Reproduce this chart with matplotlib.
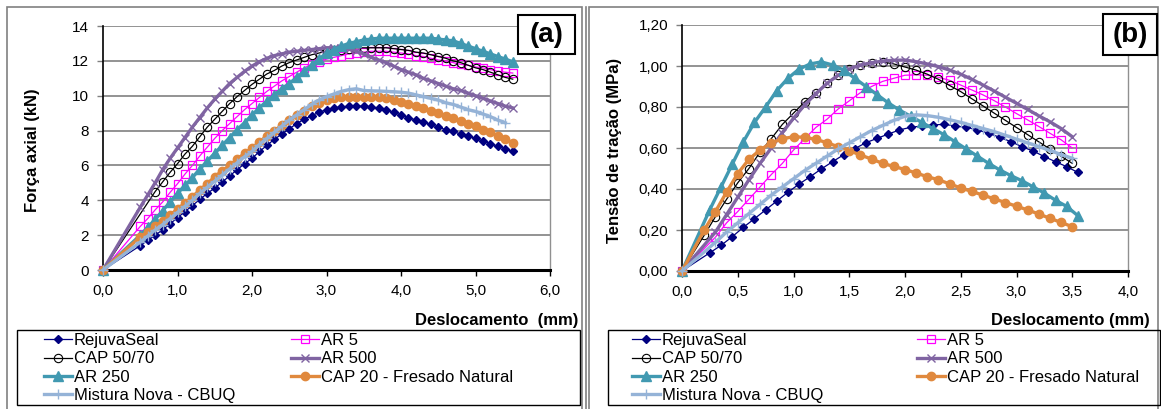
import matplotlib
matplotlib.use("Agg")
import matplotlib.pyplot as plt
from matplotlib.lines import Line2D
from matplotlib.patches import Rectangle
from matplotlib.ticker import FuncFormatter

plt.rcParams["font.family"] = ["Liberation Sans", "DejaVu Sans"]

# ---- panel (a): axial force (kN) vs displacement (mm)
xa = [0.0, 0.5, 0.6, 0.7, 0.8, 0.9, 1.0, 1.1, 1.2, 1.3, 1.4, 1.5, 1.6, 1.7, 1.8, 1.9,
      2.0, 2.1, 2.2, 2.3, 2.4, 2.5, 2.6, 2.7, 2.8, 2.9, 3.0, 3.1, 3.2, 3.3, 3.4, 3.5,
      3.6, 3.7, 3.8, 3.9, 4.0, 4.1, 4.2, 4.3, 4.4, 4.5, 4.6, 4.7, 4.8, 4.9, 5.0, 5.1,
      5.2, 5.3, 5.4, 5.5]
a_rejuvaseal = [0, 1.4, 1.7, 2.0, 2.3, 2.65, 3.0, 3.35, 3.7, 4.05, 4.4, 4.7, 5.05, 5.4, 5.75,
                6.1, 6.4, 6.8, 7.15, 7.5, 7.8, 8.1, 8.4, 8.65, 8.85, 9.05, 9.2, 9.3, 9.35, 9.4,
                9.4, 9.4, 9.35, 9.3, 9.2, 9.05, 8.9, 8.75, 8.6, 8.5, 8.35, 8.2, 8.05, 7.95,
                7.8, 7.7, 7.55, 7.4, 7.25, 7.1, 6.95, 6.8]
a_ar5 = [0, 2.5, 2.95, 3.45, 3.9, 4.45, 4.95, 5.5, 6.0, 6.55, 7.05, 7.55, 8.0, 8.4, 8.8, 9.2,
         9.55, 9.9, 10.25, 10.55, 10.85, 11.1, 11.35, 11.6, 11.8, 11.95, 12.1, 12.2, 12.3,
         12.4, 12.45, 12.5, 12.55, 12.55, 12.55, 12.5, 12.45, 12.4, 12.3, 12.25, 12.15,
         12.05, 12.0, 11.9, 11.8, 11.75, 11.65, 11.6, 11.5, 11.4, 11.35, 11.3]
a_cap5070 = [0, 4.5, 5.05, 5.6, 6.1, 6.65, 7.1, 7.65, 8.2, 8.65, 9.1, 9.55, 9.95, 10.3, 10.65,
             10.95, 11.25, 11.45, 11.7, 11.9, 12.05, 12.2, 12.35, 12.45, 12.55, 12.6, 12.65,
             12.7, 12.75, 12.75, 12.75, 12.75, 12.75, 12.7, 12.65, 12.6, 12.5, 12.45, 12.35,
             12.25, 12.15, 12.0, 11.9, 11.75, 11.6, 11.5, 11.35, 11.2, 11.05, 10.95]
a_ar500 = [0, 3.6, 4.3, 5.0, 5.75, 6.4, 7.0, 7.6, 8.2, 8.75, 9.3, 9.8, 10.25, 10.7, 11.05, 11.4,
           11.7, 11.95, 12.15, 12.3, 12.4, 12.5, 12.55, 12.6, 12.65, 12.7, 12.75, 12.75, 12.75,
           12.7, 12.55, 12.4, 12.2, 12.05, 11.9, 11.7, 11.5, 11.35, 11.2, 11.0, 10.85, 10.7,
           10.55, 10.4, 10.3, 10.15, 10.0, 9.85, 9.7, 9.55, 9.4, 9.3]
a_ar250 = [0, 2.0, 2.45, 2.9, 3.4, 3.9, 4.4, 4.85, 5.3, 5.8, 6.25, 6.7, 7.15, 7.6, 8.05, 8.45,
           8.9, 9.3, 9.7, 10.05, 10.4, 10.7, 11.05, 11.4, 11.75, 12.1, 12.45, 12.65, 12.85,
           13.0, 13.1, 13.2, 13.25, 13.3, 13.3, 13.3, 13.3, 13.3, 13.3, 13.3, 13.3, 13.25,
           13.2, 13.15, 13.0, 12.85, 12.7, 12.55, 12.4, 12.25, 12.1, 11.95]
a_cap20 = [0, 1.9, 2.2, 2.5, 2.8, 3.15, 3.5, 3.85, 4.2, 4.6, 4.95, 5.35, 5.7, 6.0, 6.35, 6.7,
           7.0, 7.35, 7.7, 8.0, 8.3, 8.6, 8.9, 9.15, 9.4, 9.6, 9.75, 9.85, 9.9, 9.95, 9.95,
           9.95, 9.95, 9.9, 9.85, 9.75, 9.65, 9.55, 9.4, 9.3, 9.15, 9.0, 8.85, 8.7, 8.55, 8.4,
           8.25, 8.05, 7.9, 7.7, 7.5, 7.3]
a_mistura = [0, 1.6, 1.95, 2.3, 2.6, 2.95, 3.3, 3.65, 4.0, 4.4, 4.75, 5.1, 5.45, 5.8, 6.15, 6.5,
             6.8, 7.2, 7.55, 7.9, 8.25, 8.6, 8.9, 9.2, 9.5, 9.75, 9.95, 10.1, 10.25, 10.35,
             10.4, 10.3, 10.28, 10.27, 10.25, 10.23, 10.2, 10.15, 10.05, 9.95, 9.85, 9.75,
             9.6, 9.5, 9.35, 9.2, 9.1, 8.95, 8.8, 8.6, 8.45]

# ---- panel (b): tensile stress (MPa) vs displacement (mm)
xb = [0.0, 0.2, 0.3, 0.4, 0.5, 0.6, 0.7, 0.8, 0.9, 1.0, 1.1, 1.2, 1.3, 1.4, 1.5, 1.6, 1.7,
      1.8, 1.9, 2.0, 2.1, 2.2, 2.3, 2.4, 2.5, 2.6, 2.7, 2.8, 2.9, 3.0, 3.1, 3.2, 3.3, 3.4, 3.5]
xb_half = [0.0, 0.25, 0.35, 0.45, 0.55, 0.65, 0.75, 0.85, 0.95, 1.05, 1.15, 1.25, 1.35, 1.45,
           1.55, 1.65, 1.75, 1.85, 1.95, 2.05, 2.15, 2.25, 2.35, 2.45, 2.55, 2.65, 2.75, 2.85,
           2.95, 3.05, 3.15, 3.25, 3.35, 3.45, 3.55]
b_rejuvaseal = [0, 0.089, 0.125, 0.167, 0.213, 0.255, 0.298, 0.341, 0.384, 0.424, 0.46, 0.498,
                0.533, 0.567, 0.597, 0.626, 0.647, 0.668, 0.688, 0.701, 0.707, 0.712, 0.716,
                0.707, 0.701, 0.688, 0.672, 0.652, 0.631, 0.606, 0.585, 0.558, 0.533, 0.509, 0.481]
b_ar5 = [0, 0.165, 0.235, 0.29, 0.35, 0.41, 0.47, 0.525, 0.59, 0.645, 0.70, 0.74, 0.79, 0.83,
         0.87, 0.90, 0.925, 0.94, 0.955, 0.957, 0.955, 0.945, 0.93, 0.907, 0.883, 0.859, 0.831,
         0.80, 0.768, 0.737, 0.705, 0.672, 0.64, 0.60]
b_cap5070 = [0, 0.175, 0.265, 0.35, 0.43, 0.50, 0.58, 0.645, 0.715, 0.77, 0.825, 0.87, 0.915,
             0.955, 0.985, 1.005, 1.015, 1.02, 1.01, 0.995, 0.98, 0.96, 0.935, 0.905, 0.875,
             0.84, 0.805, 0.77, 0.735, 0.70, 0.665, 0.63, 0.595, 0.56, 0.525]
b_ar500 = [0, 0.19, 0.275, 0.36, 0.445, 0.525, 0.60, 0.675, 0.745, 0.81, 0.865, 0.915, 0.955,
           0.985, 1.005, 1.016, 1.024, 1.028, 1.029, 1.021, 1.01, 0.997, 0.98, 0.96, 0.935,
           0.907, 0.878, 0.848, 0.818, 0.788, 0.757, 0.728, 0.695, 0.655]
b_ar250 = [0, 0.30, 0.41, 0.52, 0.63, 0.725, 0.80, 0.88, 0.94, 0.985, 1.01, 1.02, 1.005, 0.98,
           0.94, 0.90, 0.86, 0.82, 0.785, 0.755, 0.725, 0.695, 0.665, 0.63, 0.595, 0.56, 0.525,
           0.493, 0.465, 0.44, 0.41, 0.38, 0.345, 0.315, 0.27]
b_cap20 = [0, 0.20, 0.29, 0.385, 0.475, 0.545, 0.59, 0.625, 0.645, 0.655, 0.652, 0.642, 0.626,
           0.606, 0.587, 0.566, 0.546, 0.525, 0.51, 0.495, 0.478, 0.46, 0.445, 0.425, 0.405,
           0.388, 0.37, 0.352, 0.334, 0.316, 0.298, 0.278, 0.257, 0.237, 0.216]
b_mistura = [0, 0.14, 0.19, 0.235, 0.28, 0.325, 0.37, 0.41, 0.45, 0.49, 0.525, 0.56, 0.595,
             0.625, 0.655, 0.685, 0.71, 0.735, 0.755, 0.762, 0.758, 0.75, 0.738, 0.725, 0.71,
             0.695, 0.68, 0.662, 0.643, 0.625, 0.607, 0.588, 0.568, 0.55]

styles = {
    "RejuvaSeal": dict(color="#000080", lw=0.9, marker="D", ms=4, mfc="#000080", mec="#000080"),
    "AR 5": dict(color="#FF00FF", lw=0.9, marker="s", ms=6, mfc="none", mec="#FF00FF", mew=0.9),
    "CAP 50/70": dict(color="black", lw=0.9, marker="o", ms=6, mfc="none", mec="black", mew=0.8),
    "AR 500": dict(color="#8064A2", lw=2.4, marker="x", ms=6, mec="#8064A2", mew=1.0),
    "AR 250": dict(color="#4199B1", lw=2.4, marker="^", ms=6.5, mfc="#4199B1", mec="#4199B1"),
    "CAP 20 - Fresado Natural": dict(color="#E0893E", lw=2.4, marker="o", ms=6, mfc="#E0893E", mec="#E0893E"),
    "Mistura Nova - CBUQ": dict(color="#95B3D7", lw=2.4, marker="+", ms=7, mec="#95B3D7", mew=1.0),
}

W, H = 1161, 409
fig = plt.figure(figsize=(W / 100, H / 100), dpi=100)


def fbox(x0, y0, x1, y1):
    # pixel box (top-left origin) -> figure fraction rect
    return [x0 / W, 1 - y1 / H, (x1 - x0) / W, (y1 - y0) / H]


def style_axes(ax, xmax, xstep, ymax, ystep, xfmt, yfmt):
    ax.set_xlim(0, xmax)
    ax.set_ylim(0, ymax)
    nx = int(round(xmax / xstep))
    ny = int(round(ymax / ystep))
    ax.set_xticks([i * xstep for i in range(nx + 1)])
    ax.set_yticks([i * ystep for i in range(ny + 1)])
    ax.xaxis.set_major_formatter(FuncFormatter(lambda v, p: (xfmt % v).replace(".", ",")))
    ax.yaxis.set_major_formatter(FuncFormatter(lambda v, p: (yfmt % v).replace(".", ",")))
    ax.grid(axis="y", color="#808080", lw=1.2)
    ax.set_axisbelow(True)
    ax.spines["top"].set_visible(False)
    ax.spines["right"].set_color("#909090")
    ax.spines["right"].set_linewidth(1.0)
    ax.spines["left"].set_linewidth(1.2)
    ax.spines["bottom"].set_linewidth(2.2)
    ax.tick_params(direction="out", length=4, width=1, labelsize=11, pad=6)
    ax.tick_params(axis="y", color="#808080")


def draw(ax, series):
    for name, x, y in series:
        ax.plot(x, y, label=name, clip_on=False, zorder=3, **styles[name])


# outer frames
fig.add_artist(Rectangle((7 / W, -0.05), 575 / W, 1 - 7 / H + 0.05, transform=fig.transFigure,
                         fill=False, edgecolor="#808080", lw=1.2))
fig.add_artist(Rectangle((589 / W, -0.05), 569 / W, 1 - 7 / H + 0.05, transform=fig.transFigure,
                         fill=False, edgecolor="#808080", lw=1.2))
fig.add_artist(Line2D([586 / W, 586 / W], [0, 1 - 7 / H], transform=fig.transFigure,
                      color="#808080", lw=1.2))

# ---- panel (a)
ax1 = fig.add_axes(fbox(103, 26, 550, 270))
style_axes(ax1, 6.0, 1.0, 14, 2, "%.1f", "%d")
draw(ax1, [
    ("RejuvaSeal", xa, a_rejuvaseal),
    ("AR 5", xa, a_ar5),
    ("CAP 50/70", [0.0] + xa[3:], a_cap5070),
    ("AR 500", xa, a_ar500),
    ("AR 250", xa, a_ar250),
    ("CAP 20 - Fresado Natural", xa, a_cap20),
    ("Mistura Nova - CBUQ", xa[:-1], a_mistura),
])
fig.text(33 / W, 1 - 150 / H, "Força axial (kN)", rotation=90, ha="center", va="center",
         fontsize=12, fontweight="bold")
fig.text(578 / W, 1 - 321 / H, "Deslocamento  (mm)", ha="right", va="center",
         fontsize=12, fontweight="bold")

# ---- panel (b)
ax2 = fig.add_axes(fbox(682, 25, 1128, 271))
style_axes(ax2, 4.0, 0.5, 1.2, 0.2, "%.1f", "%.2f")
draw(ax2, [
    ("RejuvaSeal", xb_half, b_rejuvaseal),
    ("AR 5", [0.0] + xb[2:], b_ar5),
    ("CAP 50/70", xb, b_cap5070),
    ("AR 500", [0.0] + xb[2:], b_ar500),
    ("AR 250", xb_half, b_ar250),
    ("CAP 20 - Fresado Natural", xb, b_cap20),
    ("Mistura Nova - CBUQ", [0.0] + xb[2:], b_mistura),
])
fig.text(615 / W, 1 - 150 / H, "Tensão de tração (MPa)", rotation=90, ha="center", va="center",
         fontsize=12, fontweight="bold")
fig.text(1150 / W, 1 - 321 / H, "Deslocamento (mm)", ha="right", va="center",
         fontsize=12, fontweight="bold")

# panel tags
for (x0, y0, x1, y1), tag in [((518, 15, 575, 54), "(a)"), ((1103, 14, 1157, 55), "(b)")]:
    fig.add_artist(Rectangle((x0 / W, 1 - y1 / H), (x1 - x0) / W, (y1 - y0) / H,
                             transform=fig.transFigure, facecolor="white",
                             edgecolor="black", lw=1.5, zorder=5))
    fig.text((x0 + x1) / 2 / W, 1 - (y0 + y1) / 2 / H, tag, ha="center", va="center",
             fontsize=20, fontweight="bold", zorder=6)

# legends: framed box + two columns
handles = {h.get_label(): h for h in ax1.get_lines()}
col1 = ["RejuvaSeal", "CAP 50/70", "AR 250", "Mistura Nova - CBUQ"]
col2 = ["AR 5", "AR 500", "CAP 20 - Fresado Natural"]
for bx0, bx1, hx1, hx2 in [(17, 580, 27, 274), (608, 1160, 24, 309)]:
    fig.add_artist(Rectangle((bx0 / W, 4 / H), (bx1 - bx0) / W, 75 / H,
                             transform=fig.transFigure, fill=False, edgecolor="black", lw=1.0))
    for names, hx in [(col1, hx1), (col2, hx2)]:
        fig.legend([handles[n] for n in names], names, loc="upper left",
                   bbox_to_anchor=((bx0 + hx) / W, 1 - 333 / H), frameon=False,
                   fontsize=12, numpoints=1, handlelength=1.7, handletextpad=0.1,
                   labelspacing=0.2, borderpad=0, borderaxespad=0)

fig.savefig("out.png", dpi=100)
